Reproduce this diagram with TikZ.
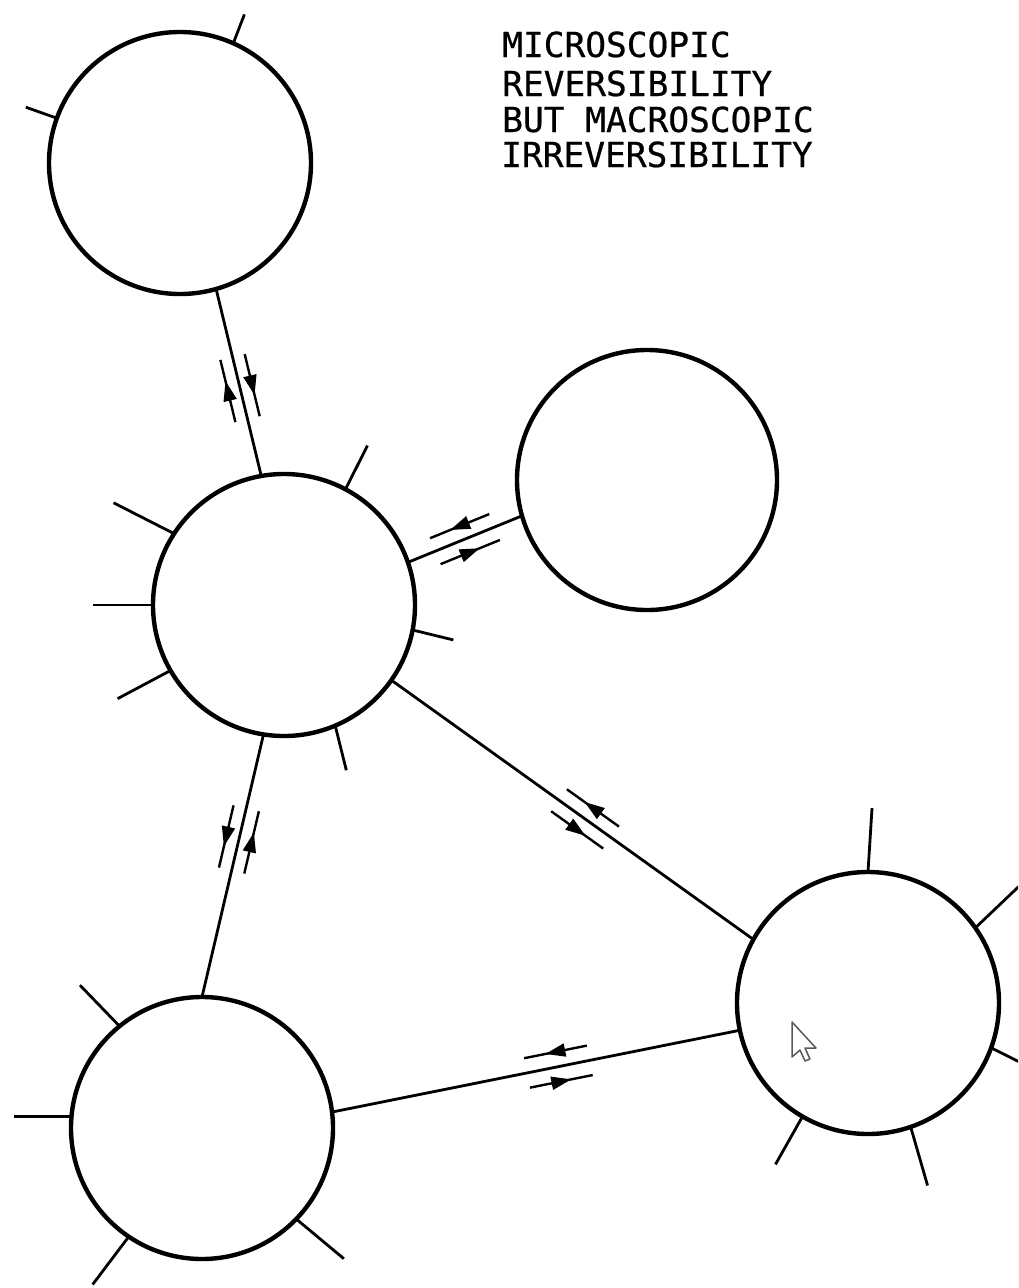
\documentclass[tikz,border=0pt]{standalone}
\usepackage{fontspec}
\setmainfont{Liberation Sans}
\newfontfamily\letterfont{DejaVu Sans Mono}
\usetikzlibrary{calc,arrows.meta,decorations.markings}
\newcommand\revpair[4]{% #1 p1, #2 p2, #3 position, #4 offset
  \coordinate (rp-m) at ($(#1)!#3!(#2)$);
  \coordinate (rp-a) at ($(rp-m)!32pt!(#1)$);
  \coordinate (rp-b) at ($(rp-m)!32pt!(#2)$);
  \draw[halfarrow] ($(rp-b)!#4!-90:(rp-a)$) -- ($(rp-a)!#4!90:(rp-b)$);
  \draw[halfarrow] ($(rp-a)!#4!-90:(rp-b)$) -- ($(rp-b)!#4!90:(rp-a)$);
}
\begin{document}
\begin{tikzpicture}[x=1pt,y=-1pt,
  blob/.style={circle, draw, line width=4.4pt, minimum size=262pt, inner sep=0pt, outer sep=0pt},
  link/.style={line width=2.8pt},
  stub/.style={line width=2.8pt},
  halfarrow/.style={line width=2.4pt, postaction={decorate},
    decoration={markings, mark=at position 0.66 with {\arrow{Triangle[length=20pt,width=13pt]}}}},
  titletext/.style={anchor=base west, inner sep=0pt,
    font=\letterfont\fontsize{34.5}{36}\selectfont\addfontfeature{FakeBold=0.6}},
  cursorstyle/.style={fill=white, draw=black!65, line width=1.5pt, line join=round}
]
\useasboundingbox (0,0) rectangle (1018,1288);
\clip (0,0) rectangle (1018,1288);

% circles
\node[blob] (A) at (180,163) {};
\node[blob] (B) at (284,605) {};
\node[blob, minimum size=260pt] (C) at (647,480) {};
\node[blob] (D) at (202,1128) {};
\node[blob] (E) at (868,1003) {};

% connectors
\draw[link] (A.-74) -- (B.100.5);
\draw[link] (B.19.4) -- (C.196.8);
\draw[link] (B.261.8) -- (D.90);
\draw[link] (B.-35.6) -- (E.151.2);
\draw[link] (D.7.8) -- (E.192.5);

% opposed half arrows
\revpair{B.100.5}{A.-74}{0.47}{-12.5pt}
\revpair{B.19.4}{C.196.8}{0.50}{14pt}
\revpair{B.261.8}{D.90}{0.40}{13pt}
\revpair{B.-35.6}{E.151.2}{0.535}{13.5pt}
\revpair{D.7.8}{E.192.5}{0.555}{15pt}

% free stubs
\draw[stub] (A.66) -- ++(69:31pt);
\draw[stub] (A.160) -- ++(160.5:33pt);

\draw[stub] (B.62.7) -- ++(63.4:49pt);
\draw[stub] (B.147.4) -- ++(153:68pt);
\draw[stub] (B.180) -- ++(180:60pt);
\draw[stub] (B.210) -- ++(208:60pt);
\draw[stub] (B.-67.5) -- ++(-76:46pt);
\draw[stub] (B.-11.6) -- ++(-13.7:42pt);

\draw[stub] (D.129) -- ++(134:57pt);
\draw[stub] (D.175) -- ++(180:58pt);
\draw[stub] (D.236) -- ++(233:60pt);
\draw[stub] (D.-44.7) -- ++(-39.8:62pt);

\draw[stub] (E.90.4) -- ++(86.4:64pt);
\draw[stub] (E.35.6) -- ++(43.6:60pt);
\draw[stub] (E.-20) -- ++(-26.6:45pt);
\draw[stub] (E.240.5) -- ++(240.6:55pt);
\draw[stub] (E.-71) -- ++(-73.9:61pt);

% title
\node[titletext] (t1) at (502,57) {MICROSCOPIC};
\node[titletext] (t2) at (502,96) {REVERSIBILITY};
\node[titletext] (t3) at (502,132) {BUT MACROSCOPIC};
\node[titletext] (t4) at (501,167) {IRREVERSIBILITY};

% mouse pointer
\draw[cursorstyle] (792,1022) -- ++(0,35) -- ++(8,-7) -- ++(5,11) -- ++(5,-2) -- ++(-5,-11) -- ++(11,0) -- cycle;
\end{tikzpicture}
\end{document}
